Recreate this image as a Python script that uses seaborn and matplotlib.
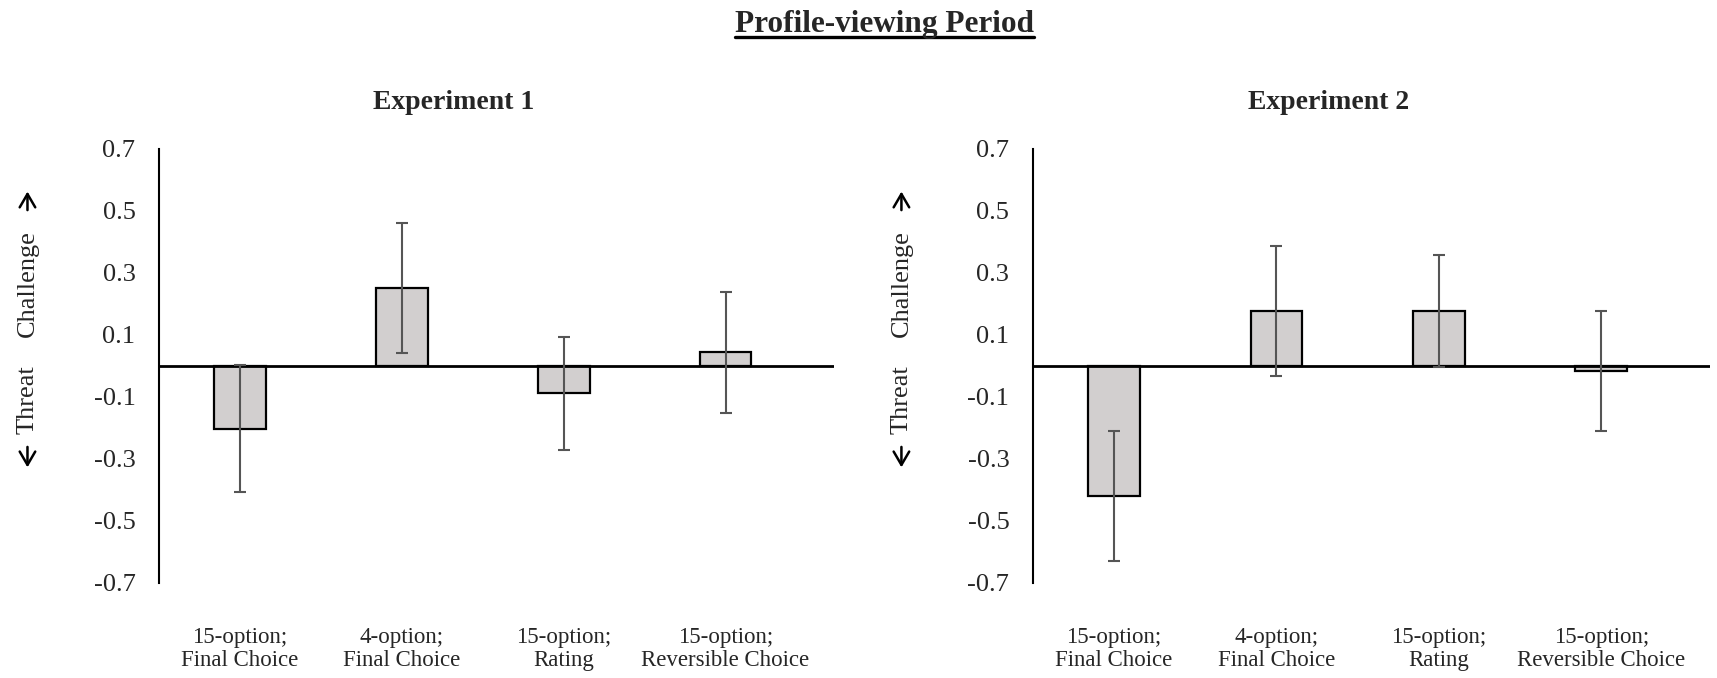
import matplotlib
matplotlib.use("Agg")
import matplotlib.pyplot as plt
import matplotlib.transforms as mtransforms
from matplotlib.lines import Line2D
import pandas as pd
import seaborn as sns

# conditions (x categories)
conditions = ['15-option;\nFinal Choice', '4-option;\nFinal Choice',
              '15-option;\nRating', '15-option;\nReversible Choice']

# mean challenge/threat index and error (+/-)
exp1_means = [-0.204, 0.250, -0.089, 0.043]
exp1_errors = [0.205, 0.210, 0.183, 0.195]
exp2_means = [-0.420, 0.177, 0.177, -0.017]
exp2_errors = [0.210, 0.210, 0.180, 0.195]

panel_titles = ['Experiment 1', 'Experiment 2']
suptitle = 'Profile-viewing Period'
ytick_values = [0.7, 0.5, 0.3, 0.1, -0.1, -0.3, -0.5, -0.7]
ytick_labels = ['0.7', '0.5', '0.3', '0.1', '-0.1', '-0.3', '-0.5', '-0.7']

sns.set_theme(style='white')
plt.rcParams['font.family'] = ['Liberation Serif', 'DejaVu Serif']

BAR_COLOR = '#d2cfcf'
ERR_COLOR = '#555555'


def draw_panel(fig, ax, means, errors, title, label_x):
    df = pd.DataFrame({'condition': conditions, 'value': means})
    sns.barplot(data=df, x='condition', y='value', ax=ax, color=BAR_COLOR,
                saturation=1, width=0.32, edgecolor='black', linewidth=1.6,
                errorbar=None)
    ax.errorbar(range(len(means)), means, yerr=errors, fmt='none',
                ecolor=ERR_COLOR, elinewidth=1.5, capsize=4, capthick=1.5,
                zorder=5)
    ax.axhline(0, color='black', lw=2, zorder=4)

    ax.set_ylim(-0.7, 0.7)
    ax.set_xlim(-0.5, 3.67)
    ax.set_yticks(ytick_values)
    ax.set_yticklabels(ytick_labels, fontsize=19)
    ax.tick_params(axis='y', length=0, pad=17)
    ax.tick_params(axis='x', length=0, pad=32, labelsize=16.5)
    ax.set_xlabel('')
    ax.set_ylabel('')
    for lab in ax.get_xticklabels():
        lab.set_linespacing(1.1)

    sns.despine(ax=ax, top=True, right=True, bottom=True)
    ax.spines['left'].set_color('black')
    ax.spines['left'].set_linewidth(1.5)
    ax.grid(False)

    ax.text(0.437, 1.0915, title, transform=ax.transAxes, ha='center',
            va='baseline', fontsize=20, fontweight='bold')

    # threat / challenge axis label
    trans = mtransforms.blended_transform_factory(fig.transFigure, ax.transData)
    ax.text(label_x, 0.093, 'Challenge', transform=trans, rotation=90,
            ha='center', va='bottom', fontsize=19)
    ax.text(label_x, 0.002, 'Threat', transform=trans, rotation=90,
            ha='center', va='top', fontsize=19)
    arrow = dict(arrowstyle='->,head_length=0.6,head_width=0.35',
                 lw=1.8, color='black', mutation_scale=16,
                 shrinkA=0, shrinkB=0)
    ax.annotate('', xy=(label_x, 0.562), xytext=(label_x, 0.502),
                xycoords=trans, textcoords=trans, arrowprops=arrow,
                annotation_clip=False)
    ax.annotate('', xy=(label_x, -0.328), xytext=(label_x, -0.262),
                xycoords=trans, textcoords=trans, arrowprops=arrow,
                annotation_clip=False)


fig = plt.figure(figsize=(17.17, 6.78), dpi=100)
ax1 = fig.add_axes([0.0926, 0.1406, 0.3931, 0.640])
ax2 = fig.add_axes([0.6016, 0.1406, 0.3943, 0.640])

draw_panel(fig, ax1, exp1_means, exp1_errors, panel_titles[0], 0.016)
draw_panel(fig, ax2, exp2_means, exp2_errors, panel_titles[1], 0.525)

t = fig.text(0.515, 0.953, suptitle, ha='center', va='baseline',
             fontsize=22.5, fontweight='bold')

# underline the main title
fig.canvas.draw()
bb = t.get_window_extent().transformed(fig.transFigure.inverted())
fig.add_artist(Line2D([bb.x0, bb.x1], [0.9454, 0.9454], color='black',
                      lw=2.4, transform=fig.transFigure))

fig.savefig('out.png', dpi=100)
